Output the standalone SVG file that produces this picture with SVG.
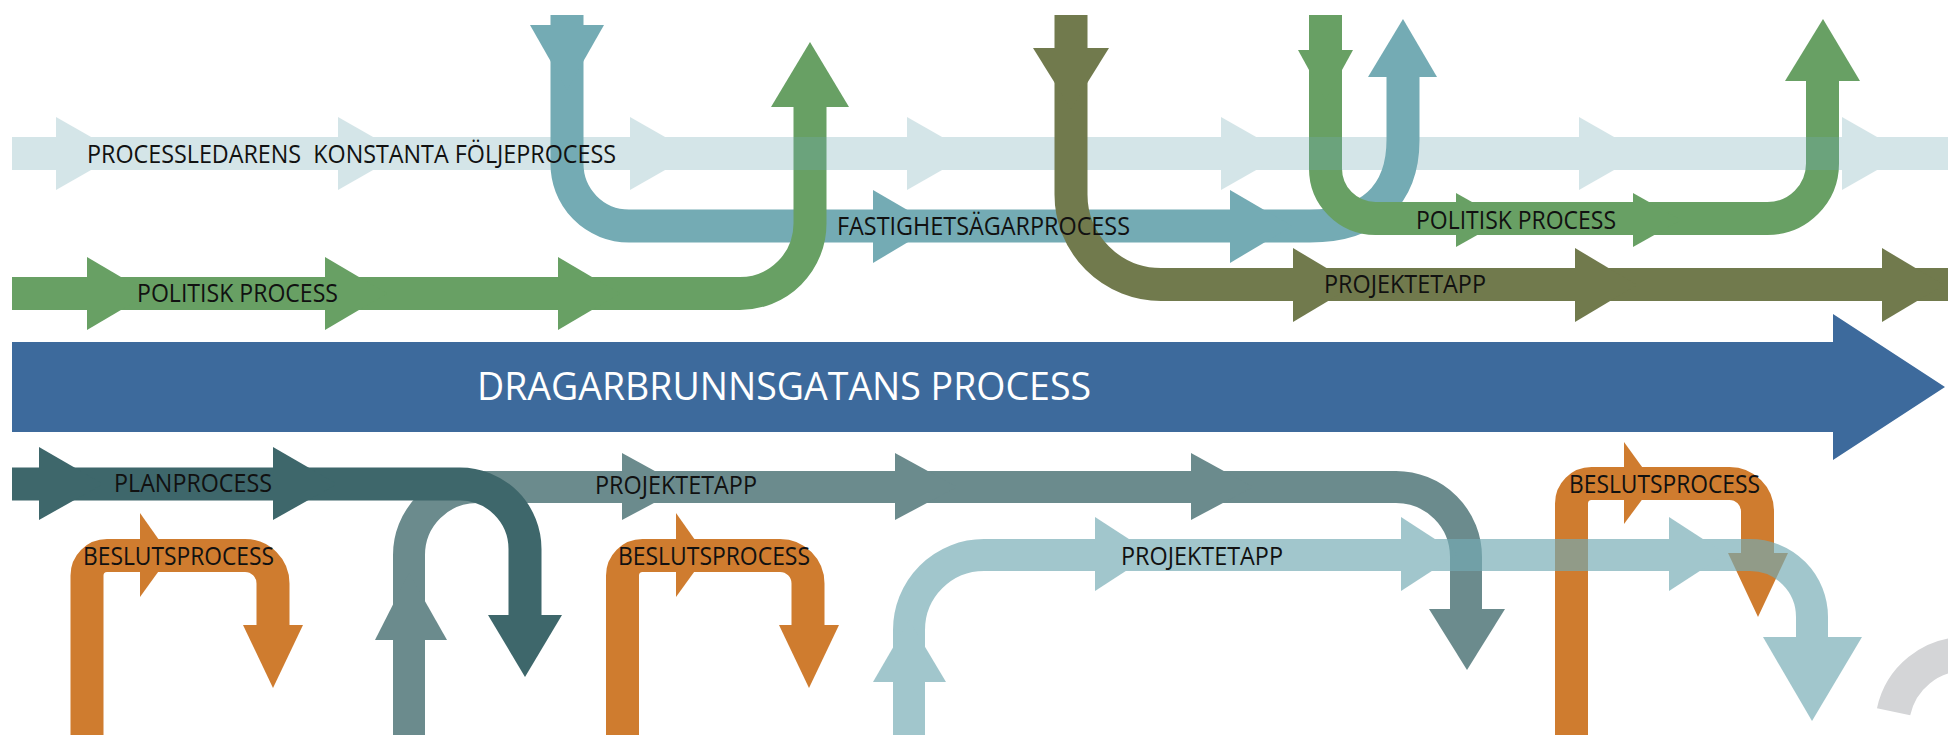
<svg xmlns="http://www.w3.org/2000/svg" width="1948" height="735" viewBox="0 0 1948 735">
<style>
.band{fill:none;stroke-width:33;stroke-linecap:butt;stroke-linejoin:round}
.lbl{font-family:"Open Sans","Liberation Sans",sans-serif;font-size:25px;fill:#111}
.big{font-family:"Open Sans","Liberation Sans",sans-serif;font-size:38px;fill:#fff}
.teal{fill:#74abb4}.teals{stroke:#74abb4}
.green{fill:#68a064}.greens{stroke:#68a064}
.olive{fill:#717a4d}.olives{stroke:#717a4d}
.dark{fill:#3e676b}.darks{stroke:#3e676b}
.gray{fill:#6b8b8d}.grays{stroke:#6b8b8d}
.orange{fill:#cf7c2f}.oranges{stroke:#cf7c2f}
</style>
<rect width="1948" height="735" fill="#fff"/>

<g id="fastighetsagarprocess">
<path class="band teals" d="M567 15 V163 A62 62 0 0 0 629 226 H1310 C1370 226 1403 195 1403 140 V70"/>
<polygon class="teal" points="530,25 567,90 604,25"/>
<polygon class="teal" points="1368,77 1403,19 1437,77"/>
<polygon class="teal" points="873,190 935,226 873,263"/>
<polygon class="teal" points="1230,190 1292,226 1230,263"/>
</g>

<g id="politisk-process-1">
<path class="band greens" d="M12 293.5 H740 A70 70 0 0 0 810 223.5 V100"/>
<polygon class="green" points="771,107 810,42 849,107"/>
<polygon class="green" points="87,257 149,293.5 87,330"/>
<polygon class="green" points="325,257 387,293.5 325,330"/>
<polygon class="green" points="558,257 620,293.5 558,330"/>
</g>

<g id="politisk-process-2">
<path class="band greens" d="M1325.5 15 V168 A50 50 0 0 0 1375.5 218.5 H1767.5 A55 55 0 0 0 1822.5 163.5 V75"/>
<polygon class="green" points="1298,50 1325.5,100 1353,50"/>
<polygon class="green" points="1785,81 1823,19 1860,81"/>
<polygon class="green" points="1456,193 1504,220 1456,247"/>
<polygon class="green" points="1633,193 1681,220 1633,247"/>
</g>

<g id="processledarens-foljeprocess" opacity="0.3">
<rect class="teal" x="12" y="137" width="1936" height="33"/>
<polygon class="teal" points="56,117 120,153.5 56,190"/>
<polygon class="teal" points="338,117 402,153.5 338,190"/>
<polygon class="teal" points="630,117 694,153.5 630,190"/>
<polygon class="teal" points="907,117 971,153.5 907,190"/>
<polygon class="teal" points="1221,117 1285,153.5 1221,190"/>
<polygon class="teal" points="1579,117 1643,153.5 1579,190"/>
<polygon class="teal" points="1842,117 1906,153.5 1842,190"/>
</g>

<g id="projektetapp-olive">
<path class="band olives" d="M1071 15 V194.5 A90 90 0 0 0 1161 284.5 H1948"/>
<polygon class="olive" points="1033,48 1071,109 1109,48"/>
<polygon class="olive" points="1293,248 1355,285 1293,322"/>
<polygon class="olive" points="1575,248 1637,285 1575,322"/>
<polygon class="olive" points="1882,248 1944,285 1882,322"/>
</g>

<g id="dragarbrunnsgatans-process">
<polygon fill="#3d6a9c" points="12,342 1833,342 1833,314 1945,387 1833,460 1833,432 12,432"/>
</g>

<g id="projektetapp-gray">
<path class="band grays" style="stroke-width:32" d="M409 735 V555 A68 68 0 0 1 477 487 H1396 A70 70 0 0 1 1466 557 V615"/>
<polygon class="gray" points="375,640 409,573 447,640"/>
<polygon class="gray" points="1429,609 1467,670 1505,609"/>
<polygon class="gray" points="622,453 684,487 622,520"/>
<polygon class="gray" points="895,453 957,487 895,520"/>
<polygon class="gray" points="1191,453 1253,487 1191,520"/>
</g>

<g id="planprocess">
<path class="band darks" d="M12 484 H460 A65 65 0 0 1 525 549 V620"/>
<polygon class="dark" points="488,615 525,677 562,615"/>
<polygon class="dark" points="39,447 103,484 39,520"/>
<polygon class="dark" points="273,447 337,484 273,520"/>
</g>

<g id="beslutsprocess-1">
<path class="band oranges" d="M87 735 V575.5 A20 20 0 0 1 107 555.5 H245 A28 28 0 0 1 273 583.5 V630"/>
<polygon class="orange" points="243,625 273,688 303,625"/>
<polygon class="orange" points="140,513 170,555.5 140,597"/>
</g>

<g id="beslutsprocess-2">
<path class="band oranges" d="M622.5 735 V575.5 A20 20 0 0 1 642.5 555.5 H780 A28 28 0 0 1 808 583.5 V630"/>
<polygon class="orange" points="779,625 809,688 839,625"/>
<polygon class="orange" points="676,513 706,555.5 676,597"/>
</g>

<g id="beslutsprocess-3">
<path class="band oranges" d="M1571.5 735 V503.5 A20 20 0 0 1 1591.5 483.5 H1729.5 A28 28 0 0 1 1757.5 511.5 V558"/>
<polygon class="orange" points="1728,553 1758,617 1788,553"/>
<polygon class="orange" points="1624,442 1654,483.5 1624,524"/>
</g>

<g id="projektetapp-light" opacity="0.67">
<path class="band teals" style="stroke-width:32" d="M909 735 V630 A75 75 0 0 1 984 555 H1750 A62 62 0 0 1 1812 617 V645"/>
<polygon class="teal" points="873,682 909,620 946,682"/>
<polygon class="teal" points="1763,637 1812,721 1862,637"/>
<polygon class="teal" points="1095,517 1152,554 1095,591"/>
<polygon class="teal" points="1401,517 1458,554 1401,591"/>
<polygon class="teal" points="1669,517 1726,554 1669,591"/>
</g>

<g id="gray-arc">
<path fill="none" stroke="#d4d5d7" stroke-width="34" d="M1893.6 711.7 A73 73 0 0 1 1965 654"/>
</g>

<g id="labels">
<text class="lbl" x="87" y="163" textLength="529" lengthAdjust="spacingAndGlyphs" xml:space="preserve">PROCESSLEDARENS  KONSTANTA FÖLJEPROCESS</text>
<text class="lbl" x="137" y="302" textLength="201" lengthAdjust="spacingAndGlyphs">POLITISK PROCESS</text>
<text class="lbl" x="837" y="235" textLength="293" lengthAdjust="spacingAndGlyphs">FASTIGHETSÄGARPROCESS</text>
<text class="lbl" x="1416" y="229" textLength="200" lengthAdjust="spacingAndGlyphs">POLITISK PROCESS</text>
<text class="lbl" x="1324" y="293" textLength="162" lengthAdjust="spacingAndGlyphs">PROJEKTETAPP</text>
<text class="big" x="477" y="400" textLength="614" lengthAdjust="spacingAndGlyphs">DRAGARBRUNNSGATANS PROCESS</text>
<text class="lbl" x="114" y="492" textLength="158" lengthAdjust="spacingAndGlyphs">PLANPROCESS</text>
<text class="lbl" x="595" y="494" textLength="162" lengthAdjust="spacingAndGlyphs">PROJEKTETAPP</text>
<text class="lbl" x="83" y="565" textLength="191" lengthAdjust="spacingAndGlyphs">BESLUTSPROCESS</text>
<text class="lbl" x="618" y="565" textLength="192" lengthAdjust="spacingAndGlyphs">BESLUTSPROCESS</text>
<text class="lbl" x="1121" y="565" textLength="162" lengthAdjust="spacingAndGlyphs">PROJEKTETAPP</text>
<text class="lbl" x="1569" y="493" textLength="191" lengthAdjust="spacingAndGlyphs">BESLUTSPROCESS</text>
</g>
</svg>
